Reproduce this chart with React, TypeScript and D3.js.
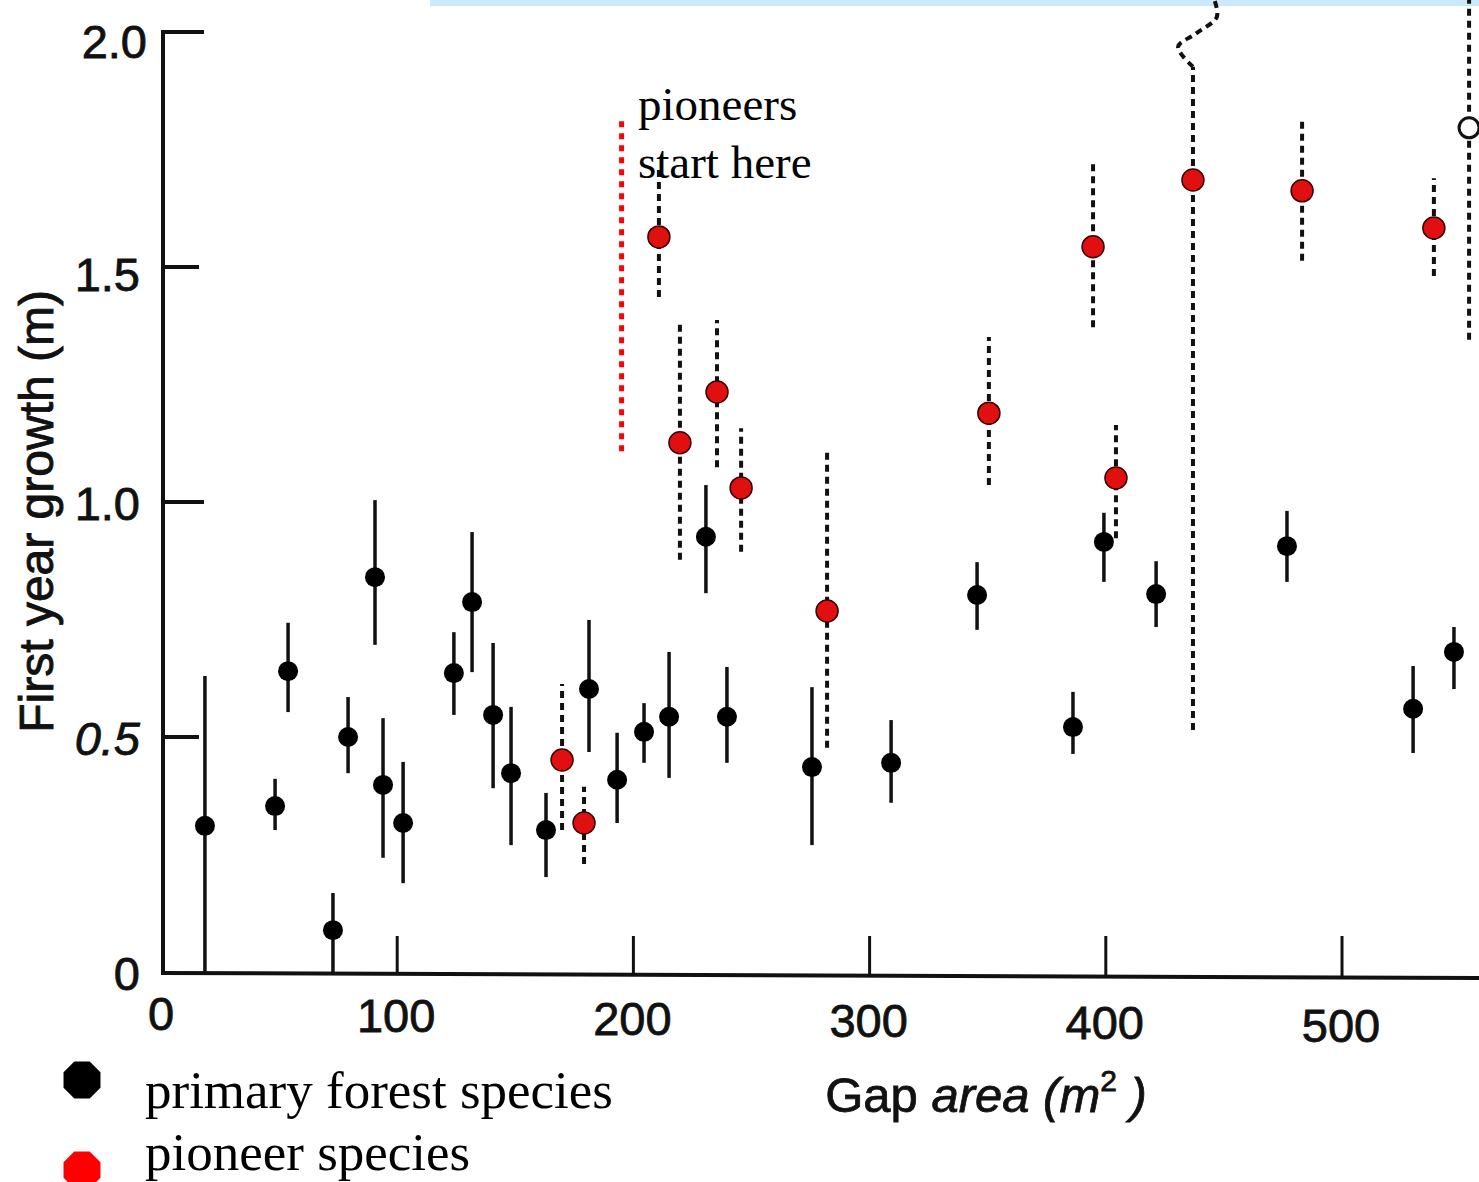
import React from "react";
import * as d3 from "d3";

const W = 1479;
const H = 1182;

// primary forest species (black, solid error bars)
const primaryX = [18.6, 48.3, 53.8, 72.8, 79.2, 90.6, 94.0, 102.5, 124.0, 131.7, 140.6, 148.2, 163.0, 181.2, 193.1, 204.5, 215.1, 230.7, 239.6, 275.6, 309.1, 345.5, 386.1, 399.2, 421.3, 476.7, 530.1, 547.4];
const primaryY = [0.311, 0.353, 0.64, 0.089, 0.5, 0.84, 0.398, 0.317, 0.636, 0.787, 0.547, 0.423, 0.302, 0.602, 0.409, 0.511, 0.543, 0.926, 0.543, 0.436, 0.445, 0.802, 0.521, 0.915, 0.804, 0.906, 0.56, 0.681];
const primaryHi = [0.63, 0.411, 0.743, 0.168, 0.585, 1.004, 0.54, 0.447, 0.723, 0.936, 0.7, 0.564, 0.381, 0.749, 0.509, 0.572, 0.681, 1.036, 0.649, 0.606, 0.536, 0.872, 0.596, 0.977, 0.874, 0.981, 0.651, 0.734];
const primaryLo = [0, 0.302, 0.553, 0, 0.423, 0.696, 0.243, 0.189, 0.547, 0.638, 0.391, 0.27, 0.202, 0.468, 0.317, 0.445, 0.413, 0.806, 0.445, 0.27, 0.36, 0.728, 0.464, 0.83, 0.734, 0.83, 0.466, 0.602];

// pioneer species (red, dashed error bars)
const pioneerX = [169.8, 179.1, 210.8, 219.7, 235.4, 245.6, 282.0, 350.5, 394.6, 404.3, 436.9, 483.1, 538.9];
const pioneerY = [0.451, 0.317, 1.564, 1.126, 1.234, 1.03, 0.768, 1.189, 1.543, 1.051, 1.685, 1.662, 1.583];
const pioneerHi = [0.613, 0.394, 1.715, 1.383, 1.387, 1.157, 1.111, 1.351, 1.723, 1.164, 1.926, 1.817, 1.689];
const pioneerLo = [0.302, 0.23, 1.436, 0.877, 1.074, 0.894, 0.477, 1.036, 1.372, 0.923, 0.515, 1.513, 1.481];

// open-circle point at right edge
const openX = [553.8];
const openY = [1.796];
const openHi = [2.068];
const openLo = [1.345];

// broken (off-scale) continuation of one pioneer error bar
const breakX = [436.9, 430.6, 438.6, 447.0, 446.0];
const breakY = [1.926, 1.968, 1.998, 2.032, 2.068];

const xTicks = [0, 100, 200, 300, 400, 500];
const xTickLabels = ["0", "100", "200", "300", "400", "500"];
const yTicks = [0, 0.5, 1.0, 1.5, 2.0];
const yTickLabels = ["0", "0.5", "1.0", "1.5", "2.0"];

const legendLabels = ["primary forest species", "pioneer species"];
const annotationLines = ["pioneers", "start here"];
const annotationX = 195;
const annotationTop = 1.81;
const annotationBottom = 1.10;

export default function App() {
  const x = d3.scaleLinear().domain([0, 558]).range([161, 1479]);
  const y = d3.scaleLinear().domain([0, 2.068]).range([972, 0]);
  const line = d3
    .line<[number, number]>()
    .x((d) => x(d[0]))
    .y((d) => y(d[1]))
    .curve(d3.curveCatmullRom);

  const sans = "'Liberation Sans', Arial, Helvetica, sans-serif";
  const serif = "'Liberation Serif', 'Times New Roman', Times, serif";
  const ink = "#111";

  const octagon = (cx: number, cy: number, r: number) =>
    d3
      .range(8)
      .map((k) => {
        const a = Math.PI / 8 + (k * Math.PI) / 4;
        return `${cx + r * Math.cos(a)},${cy + r * Math.sin(a)}`;
      })
      .join(" ");

  const x0 = x(0);
  const y0 = y(0);

  return (
    <svg
      width={W}
      height={H}
      viewBox={`0 0 ${W} ${H}`}
      style={{ position: "absolute", left: 0, top: 0, background: "#fff" }}
    >
      <rect x={0} y={0} width={W} height={H} fill="#fff" />
      <rect x={430} y={0} width={W - 430} height={6} fill="#cbe9fb" />

      {/* y axis */}
      <line x1={x0 + 2} y1={y0 + 2} x2={x0 + 2} y2={y(2.0) - 2} stroke={ink} strokeWidth={4} />
      {yTicks.map((t, i) =>
        t === 0 ? null : (
          <line
            key={"yt" + i}
            x1={x0 + 2}
            x2={x0 + (i % 2 === 0 ? 43 : 38)}
            y1={y(t)}
            y2={y(t)}
            stroke={ink}
            strokeWidth={4}
          />
        )
      )}
      {yTicks.map((t, i) => (
        <text
          key={"yl" + i}
          x={145 - (i === 4 ? -2 : 5)}
          y={y(t) + (i === 4 ? 26 : i === 3 ? 24 : 18)}
          textAnchor="end"
          fontFamily={sans}
          fontSize={47}
          fontStyle={i === 1 ? "italic" : "normal"}
          fill={ink}
          stroke={ink}
          strokeWidth={0.8}
        >
          {yTickLabels[i]}
        </text>
      ))}

      {/* x axis */}
      <line x1={x0} y1={y0 + 1} x2={W} y2={y0 + 6} stroke={ink} strokeWidth={4} />
      {xTicks.map((t, i) =>
        t === 0 ? null : (
          <line
            key={"xt" + i}
            x1={x(t)}
            x2={x(t)}
            y1={y0 + 1 + (x(t) - x0) * 0.0045}
            y2={y0 - 36}
            stroke={ink}
            strokeWidth={3}
          />
        )
      )}
      {xTicks.map((t, i) => (
        <text
          key={"xl" + i}
          x={x(t) + (i === 0 ? 0 : -1)}
          y={1030 + (x(t) - x0) * 0.01}
          textAnchor="middle"
          fontFamily={sans}
          fontSize={47}
          fill={ink}
          stroke={ink}
          strokeWidth={0.8}
        >
          {xTickLabels[i]}
        </text>
      ))}

      {/* axis titles */}
      <text
        transform={`translate(53,${y(0.98)}) rotate(-90)`}
        textAnchor="middle"
        fontFamily={sans}
        fontSize={48}
        fill={ink}
        stroke={ink}
        strokeWidth={0.9}
      >
        First year growth (m)
      </text>
      <text
        x={986}
        y={1112}
        textAnchor="middle"
        fontFamily={sans}
        fontSize={49}
        fill={ink}
        stroke={ink}
        strokeWidth={0.8}
      >
        <tspan>Gap </tspan>
        <tspan fontStyle="italic">area (m</tspan>
        <tspan fontSize={30} dy={-21}>2</tspan>
        <tspan dy={21} fontStyle="italic"> )</tspan>
      </text>

      {/* primary forest species error bars and points */}
      {primaryX.map((v, i) => (
        <line
          key={"pe" + i}
          x1={x(v)}
          x2={x(v)}
          y1={y(primaryLo[i])}
          y2={y(primaryHi[i])}
          stroke={ink}
          strokeWidth={3.5}
        />
      ))}
      {primaryX.map((v, i) => (
        <circle key={"pc" + i} cx={x(v)} cy={y(primaryY[i])} r={10} fill="#000" />
      ))}

      {/* pioneer species error bars and points */}
      {pioneerX.map((v, i) => (
        <line
          key={"ne" + i}
          x1={x(v)}
          x2={x(v)}
          y1={y(pioneerLo[i])}
          y2={y(pioneerHi[i])}
          stroke={ink}
          strokeWidth={4}
          strokeDasharray="7 5"
        />
      ))}
      <path
        d={line(breakX.map((v, i) => [v, breakY[i]] as [number, number])) || ""}
        fill="none"
        stroke={ink}
        strokeWidth={4}
        strokeDasharray="7 5"
      />
      {openX.map((v, i) => (
        <g key={"oe" + i}>
          <line
            x1={x(v)}
            x2={x(v)}
            y1={y(openLo[i])}
            y2={y(openHi[i])}
            stroke={ink}
            strokeWidth={4}
            strokeDasharray="7 5"
          />
          <circle cx={x(v)} cy={y(openY[i])} r={10} fill="#fff" stroke={ink} strokeWidth={3} />
        </g>
      ))}
      {pioneerX.map((v, i) => (
        <circle
          key={"nc" + i}
          cx={x(v)}
          cy={y(pioneerY[i])}
          r={11}
          fill="#e01010"
          stroke="#3a0000"
          strokeWidth={1.5}
        />
      ))}

      {/* annotation */}
      <line
        x1={x(annotationX)}
        x2={x(annotationX)}
        y1={y(annotationTop)}
        y2={y(annotationBottom)}
        stroke="#ff0000"
        strokeWidth={5}
        strokeDasharray="6 6"
      />
      {annotationLines.map((s, i) => (
        <text
          key={"an" + i}
          x={638}
          y={120 + i * 58}
          fontFamily={serif}
          fontSize={47}
          fill="#000"
        >
          {s}
        </text>
      ))}

      {/* legend */}
      <polygon points={octagon(82, 1080, 20)} fill="#000" />
      <polygon points={octagon(82, 1170, 20)} fill="#ff0000" />
      {legendLabels.map((s, i) => (
        <text
          key={"lg" + i}
          x={145}
          y={1108 + i * 62}
          fontFamily={serif}
          fontSize={53}
          fill="#000"
        >
          {s}
        </text>
      ))}
    </svg>
  );
}
